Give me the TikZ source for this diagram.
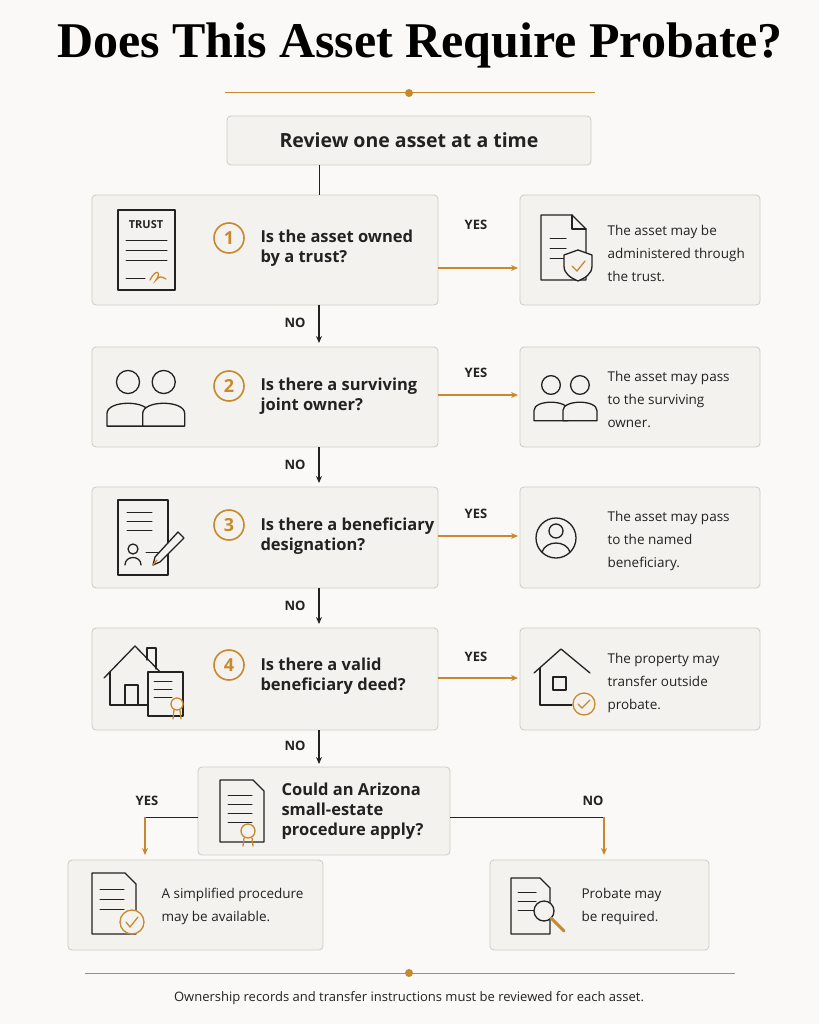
\documentclass[tikz,border=0pt]{standalone}
\usepackage{fontspec}
\setmainfont{Open Sans}
\newfontfamily\titlefont{Liberation Serif}
\usetikzlibrary{arrows.meta}
\definecolor{gold}{HTML}{C8892E}
\definecolor{boxfill}{HTML}{F4F2EE}
\definecolor{boxdraw}{HTML}{CFCBC4}
\definecolor{ink}{HTML}{222222}
\definecolor{bg}{HTML}{FAF9F7}
\begin{document}
\begin{tikzpicture}[x=1pt,y=-1pt,
 box/.style={draw=boxdraw,fill=boxfill,rounded corners=4pt,line width=0.8pt},
 q/.style={anchor=west,align=left,font=\fontsize{16.5}{20}\selectfont\bfseries,text=ink},
 ans/.style={anchor=west,align=left,font=\fontsize{13.5}{23}\selectfont,text=ink},
 num/.style={circle,draw=gold,line width=1.6pt,minimum size=30pt,inner sep=0pt,text=gold,font=\fontsize{18}{18}\selectfont\bfseries},
 lab/.style={font=\fontsize{13}{13}\selectfont\bfseries,text=ink},
 garr/.style={draw=gold,line width=1.3pt,-{Stealth[length=7pt,width=6pt]}},
 karr/.style={draw=ink,line width=1.3pt,-{Stealth[length=7pt,width=6pt]}},
 ic/.style={draw=ink,line width=1.3pt,line join=round,line cap=round},
 icg/.style={draw=gold,line width=1.3pt,line cap=round}]
\fill[bg] (0,0) rectangle (819,1024);
\useasboundingbox (0,0) rectangle (819,1024);
% title
\node (title) at (420,45) {\titlefont\bfseries\fontsize{50}{52}\selectfont Does This Asset Require Probate?};
\draw[gold,line width=1pt] (225,93) -- (595,93);
\fill[gold] (409,93) circle (4);
% start box
\node[box,minimum width=364pt,minimum height=49pt] (start) at (409,140.5) {};
\node[font=\fontsize{19.5}{20}\selectfont\bfseries,text=ink] at (409,140) {Review one asset at a time};
% question boxes
\foreach \n/\ya/\yb in {1/195/305,2/347/447,3/487/588,4/628/730}{
 \node[box,minimum width=346pt,minimum height={(\yb-\ya)*1pt}] (L\n) at (265,{(\ya+\yb)/2}) {};
 \node[box,minimum width=240pt,minimum height={(\yb-\ya)*1pt}] (R\n) at (640,{(\ya+\yb)/2}) {};
}
\draw[ink,line width=1pt] (319,165) -- (319,195);
% numbers
\node[num] (n1) at (229,238) {1};
\node[num] (n2) at (229,386) {2};
\node[num] (n3) at (229,525) {3};
\node[num] (n4) at (229,665) {4};
\node[q] at (257,248) {Is the asset owned\\by a trust?};
\node[q] at (257,396) {Is there a surviving\\joint owner?};
\node[q] at (257,536) {Is there a beneficiary\\designation?};
\node[q] at (257,676) {Is there a valid\\beneficiary deed?};
\node[ans] at (604,253) {The asset may be\\administered through\\the trust.};
\node[ans] at (604,399) {The asset may pass\\to the surviving\\owner.};
\node[ans] at (604,541) {The asset may pass\\to the named\\beneficiary.};
\node[ans] at (604,683) {The property may\\transfer outside\\probate.};
% yes arrows
\foreach \n/\y/\ly in {1/268/225,2/395/373,3/536/514,4/678/657}{
 \draw[garr] (438,\y) -- (518,\y);
 \node[lab] at (476,\ly) {YES};
}
% no arrows
\foreach \a/\b/\ly in {305/343/323,447/483/465,588/624/606,730/764/746}{
 \draw[karr] (319,\a) -- (319,\b);
 \node[lab] at (295,\ly) {NO};
}
% box 5
\node[box,minimum width=252pt,minimum height=88pt] (L5) at (324,811) {};
\node[q] at (278,811) {Could an Arizona\\small-estate\\procedure apply?};
\node[box,minimum width=255pt,minimum height=90pt] (B1) at (195.5,905) {};
\node[box,minimum width=219pt,minimum height=90pt] (B2) at (599.5,905) {};
\draw[ink,line width=1pt] (198,817) -- (145,817);
\draw[garr] (145,817) -- (145,855);
\draw[ink,line width=1pt] (450,817) -- (604,817);
\draw[garr] (604,817) -- (604,855);
\node[lab] at (147,801) {YES};
\node[lab] at (593,801) {NO};
\node[ans] at (158,906) {A simplified procedure\\may be available.};
\node[ans] at (578,906) {Probate may\\be required.};
% footer
\draw[gold,line width=1pt] (85,973) -- (735,973);
\fill[gold] (409,973) circle (4);
\node[font=\fontsize{13}{14}\selectfont,text=ink] at (409,998) {Ownership records and transfer instructions must be reviewed for each asset.};
% ---- icons ----
\draw[ic] (118,210) rectangle (175,290);
\node[font=\fontsize{11}{11}\selectfont\bfseries,text=ink] at (146,225) {TRUST};
\foreach \y in {240,250,260} \draw[ic,line width=1pt] (126,\y) -- (167,\y);
\draw[ic,line width=1pt] (126,278) -- (145,278);
\draw[icg] (150,280) .. controls (156,268) and (162,272) .. (156,280) .. controls (160,276) .. (166,279);
\draw[ic] (541,215) -- (572,215) -- (586,229) -- (586,280) -- (541,280) -- cycle;
\draw[ic] (572,215) -- (572,229) -- (586,229);
\foreach \y in {238,248,258} \draw[ic,line width=1pt] (550,\y) -- (566,\y);
\draw[ic,fill=boxfill] (578,250) -- (592,255) -- (592,266) .. controls (592,274) and (585,278) .. (578,281) .. controls (571,278) and (564,274) .. (564,266) -- (564,255) -- cycle;
\draw[icg] (572,266) -- (577,271) -- (585,261);
\def\people#1#2#3{
 \draw[ic] (#1,#2) circle (11*#3);
 \draw[ic] ({#1-20*#3},{#2+42*#3}) -- ({#1-20*#3},{#2+30*#3}) .. controls ({#1-20*#3},{#2+17*#3}) and ({#1+20*#3},{#2+17*#3}) .. ({#1+20*#3},{#2+30*#3}) -- ({#1+20*#3},{#2+42*#3}) -- cycle;
 \draw[ic,fill=boxfill] ({#1+34*#3},#2) circle (11*#3);
 \draw[ic,fill=boxfill] ({#1+14*#3},{#2+42*#3}) -- ({#1+14*#3},{#2+30*#3}) .. controls ({#1+14*#3},{#2+17*#3}) and ({#1+54*#3},{#2+17*#3}) .. ({#1+54*#3},{#2+30*#3}) -- ({#1+54*#3},{#2+42*#3}) -- cycle;}
\people{128}{382}{1.05}
\people{551}{385}{0.85}
\draw[ic] (118,500) rectangle (168,575);
\foreach \y in {512,521,530} \draw[ic,line width=1pt] (127,\y) -- (152,\y);
\draw[ic] (133,549) circle (5);
\draw[ic] (125,565) .. controls (125,555) and (141,555) .. (141,565);
\draw[ic,line width=1pt] (146,552) -- (158,552);
\draw[ic,fill=boxfill] (178,532) -- (184,538) -- (160,562) -- (153,565) -- (155,557) -- cycle;
\draw[icg] (153,565) -- (157,560);
\draw[ic] (556,538) circle (20);
\draw[ic] (556,531) circle (7);
\draw[ic] (542,552) .. controls (546,540) and (566,540) .. (570,552);
\draw[ic] (104,678) -- (135,646) -- (166,678);
\draw[ic] (110,672) -- (110,705) -- (148,705);
\draw[ic] (147,660) -- (147,648) -- (156,648) -- (156,669);
\draw[ic] (125,705) -- (125,685) -- (138,685) -- (138,705);
\draw[ic,fill=boxfill] (148,672) rectangle (183,716);
\foreach \y in {681,689,697} \draw[ic,line width=1pt] (154,\y) -- (172,\y);
\draw[icg,fill=boxfill] (177,704) circle (6);
\draw[icg] (174,710) -- (173,719) (180,710) -- (181,719);
\draw[ic] (534,673) -- (561,649) -- (590,673);
\draw[ic] (540,668) -- (540,705) -- (572,705);
\draw[ic] (553,690) rectangle (566,677);
\draw[icg,fill=boxfill] (584,704) circle (11);
\draw[icg] (578,704) -- (582,708) -- (590,700);
\draw[ic] (220,780) -- (253,780) -- (264,791) -- (264,842) -- (220,842) -- cycle;
\foreach \y in {795,804,813,822} \draw[ic,line width=1pt] (228,\y) -- (252,\y);
\draw[icg,fill=boxfill] (248,831) circle (7);
\draw[icg] (244,838) -- (243,846) (252,838) -- (253,846);
\draw[ic] (92,873) -- (125,873) -- (136,884) -- (136,934) -- (92,934) -- cycle;
\foreach \y in {889,899,909} \draw[ic,line width=1pt] (100,\y) -- (124,\y);
\draw[icg,fill=boxfill] (132,922) circle (12);
\draw[icg] (126,922) -- (130,927) -- (138,917);
\draw[ic] (511,878) -- (540,878) -- (550,888) -- (550,934) -- (511,934) -- cycle;
\foreach \y in {892,901,910} \draw[ic,line width=1pt] (518,\y) -- (536,\y);
\draw[ic,fill=boxfill] (544,911) circle (10);
\draw[icg,line width=3pt] (551,918) -- (564,931);
\end{tikzpicture}
\end{document}
